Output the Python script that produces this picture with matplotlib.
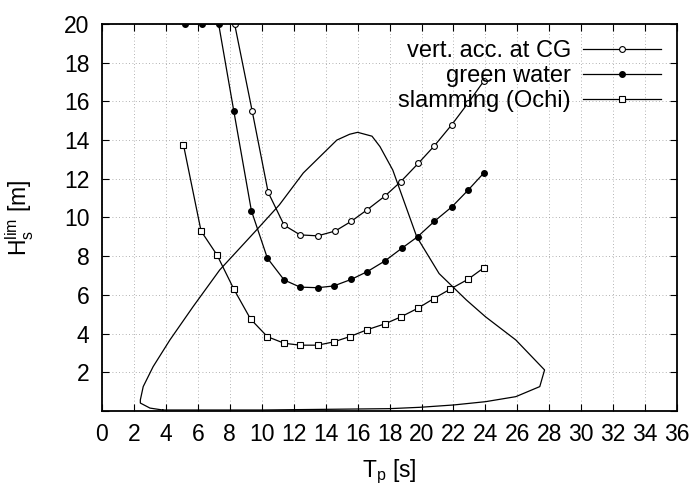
import matplotlib
matplotlib.use('Agg')
import matplotlib.pyplot as plt

plt.rcParams['font.family'] = ['Liberation Sans', 'DejaVu Sans']
plt.rcParams['mathtext.default'] = 'regular'

# limiting significant wave height vs peak period
tp_cg = [8.3, 9.4, 10.4, 11.4, 12.4, 13.5, 14.6, 15.6, 16.6, 17.7, 18.7, 19.8, 20.8, 21.9, 22.9, 23.9]
hs_cg = [20.0, 15.5, 11.3, 9.6, 9.1, 9.05, 9.3, 9.8, 10.4, 11.1, 11.85, 12.8, 13.7, 14.8, 15.9, 17.05]

tp_gw = [5.2, 6.25, 7.3, 8.25, 9.35, 10.35, 11.4, 12.4, 13.5, 14.5, 15.6, 16.6, 17.7, 18.75, 19.75, 20.8, 21.9, 22.9, 23.9]
hs_gw = [20.0, 20.0, 20.0, 15.5, 10.35, 7.9, 6.77, 6.4, 6.37, 6.46, 6.8, 7.2, 7.75, 8.4, 9.0, 9.8, 10.55, 11.4, 12.3]

tp_sl = [5.1, 6.2, 7.2, 8.25, 9.3, 10.35, 11.4, 12.4, 13.5, 14.5, 15.5, 16.6, 17.7, 18.7, 19.75, 20.75, 21.8, 22.9, 23.9]
hs_sl = [13.75, 9.3, 8.06, 6.3, 4.75, 3.84, 3.5, 3.4, 3.4, 3.57, 3.84, 4.2, 4.5, 4.86, 5.3, 5.8, 6.3, 6.8, 7.4]

# scatter diagram contour
tp_sd = [3.8, 3.0, 2.4, 2.4, 2.58, 3.2, 4.25, 5.7, 7.37, 9.67, 11.1, 12.6, 14.7, 15.5, 16.0, 16.9,
         17.4, 18.2, 19.7, 21.1, 22.8, 24.0, 25.9, 27.7, 27.4, 25.9, 24.0, 22.0, 19.9, 18.0, 10.0, 3.8]
hs_sd = [0.05, 0.15, 0.41, 0.57, 1.26, 2.29, 3.67, 5.39, 7.29, 9.35, 10.65, 12.3, 14.0, 14.3, 14.4, 14.2,
         13.66, 12.45, 9.0, 7.1, 5.74, 4.87, 3.67, 2.12, 1.26, 0.74, 0.48, 0.31, 0.19, 0.12, 0.05, 0.05]

labels = ["vert. acc. at CG", "green water", "slamming (Ochi)"]


def main():
    fig = plt.figure(figsize=(6.91, 4.99), dpi=100)
    ax = fig.add_axes([0.1476, 0.1764, 0.8324, 0.7756])

    ax.plot(tp_cg, hs_cg, color='black', lw=0.9, marker='o', ms=4.2,
            mfc='white', mec='black', mew=0.8, label=labels[0])
    ax.plot(tp_gw, hs_gw, color='black', lw=0.9, marker='o', ms=4.0,
            mfc='black', mec='black', label=labels[1])
    ax.plot(tp_sl, hs_sl, color='black', lw=0.9, marker='s', ms=4.2,
            mfc='white', mec='black', mew=0.8, label=labels[2])
    ax.plot(tp_sd, hs_sd, color='black', lw=0.9)

    ax.set_xlim(0, 36)
    ax.set_ylim(0, 20)
    ax.set_xticks(range(0, 37, 2))
    ax.set_yticks(range(0, 21, 2))
    ax.set_yticklabels([''] + [str(v) for v in range(2, 21, 2)])
    ax.tick_params(direction='in', top=True, right=True, length=5, width=0.8,
                   labelsize=16.5, pad=9)
    ax.grid(True, color='#999999', linestyle=(0, (1, 3)), lw=0.6)
    for s in ax.spines.values():
        s.set_linewidth(1.3)

    ax.set_xlabel('$T_p$ [s]', fontsize=16.5, labelpad=8)
    ax.set_ylabel('$H_s^{lim}$ [m]', fontsize=16.5, labelpad=20)

    ax.legend(loc='upper right', frameon=False, markerfirst=False,
              fontsize=17, handlelength=3.3, handletextpad=0.5,
              labelspacing=0.12, borderaxespad=0.4, borderpad=0.3)

    fig.savefig('out.png', dpi=100, facecolor='white')
    plt.close(fig)


if __name__ == '__main__':
    main()
